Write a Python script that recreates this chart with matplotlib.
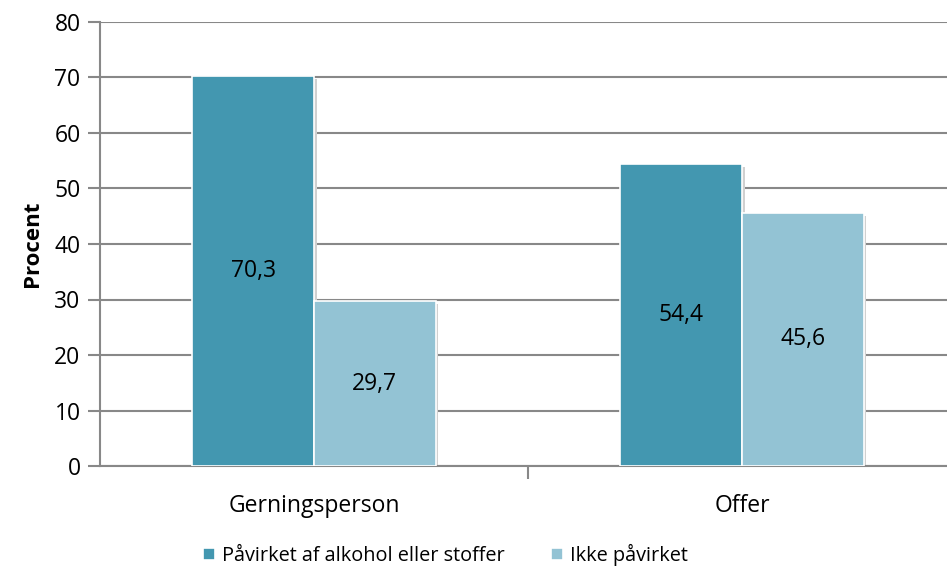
import matplotlib.pyplot as plt
import numpy as np

plt.rcParams['font.family'] = ['Open Sans', 'DejaVu Sans']

# data
kategorier = ['Gerningsperson', 'Offer']
paavirket = [70.3, 54.4]
ikke_paavirket = [29.7, 45.6]
serier = ['Påvirket af alkohol eller stoffer', 'Ikke påvirket']
farver = ['#4397B0', '#93C3D4']

fig = plt.figure(figsize=(9.47, 5.72), dpi=100)
# plotområdet går lidt ud over billedets højre kant, som i originalen
ax = fig.add_axes([100 / 947, 1 - 466 / 572, (956 - 100) / 947, (466 - 22) / 572])

x = np.arange(len(kategorier))
w = 0.284

for off, vals, c, lab in [(-w / 2, paavirket, farver[0], serier[0]),
                          (w / 2, ikke_paavirket, farver[1], serier[1])]:
    # lille skygge bag søjlerne
    ax.bar(x + off + 0.006, vals, w, bottom=-0.5, color='#d0d0d0', zorder=2)
    bars = ax.bar(x + off, vals, w, color=c, edgecolor='white', linewidth=1.2,
                  label=lab, zorder=3)
    for b, v in zip(bars, vals):
        ax.text(b.get_x() + b.get_width() / 2, v / 2, f'{v:.1f}'.replace('.', ','),
                ha='center', va='center', fontsize=16.5, zorder=4)

ax.set_xlim(-0.5, 1.5)
ax.set_ylim(0, 80)
ax.set_yticks(range(0, 81, 10))
ax.yaxis.grid(True, color='#888888', linewidth=1.5, zorder=0)
ax.set_axisbelow(True)

for s in ['top', 'right']:
    ax.spines[s].set_visible(False)
ax.spines['left'].set_color('#888888')
ax.spines['left'].set_linewidth(1.5)
ax.spines['bottom'].set_color('#888888')
ax.spines['bottom'].set_linewidth(1.5)

ax.tick_params(axis='y', length=9, width=1.5, color='#888888', labelsize=16.5, pad=5)
ax.set_xticks(x)
ax.set_xticklabels(kategorier, fontsize=16.5)
ax.tick_params(axis='x', length=0, pad=20)
ax.set_xticks([0.5], minor=True)
ax.tick_params(axis='x', which='minor', length=9, width=1.5, color='#888888')

ax.set_ylabel('Procent', fontsize=16, fontweight='bold', labelpad=8)

leg = fig.legend(loc='center left', bbox_to_anchor=(203 / 947, 1 - 555 / 572), ncol=2,
                 frameon=False, fontsize=14.3, handlelength=0.62, handleheight=0.62,
                 handletextpad=0.35, columnspacing=2.3, borderaxespad=0, borderpad=0)

fig.savefig('out.png', dpi=100)
